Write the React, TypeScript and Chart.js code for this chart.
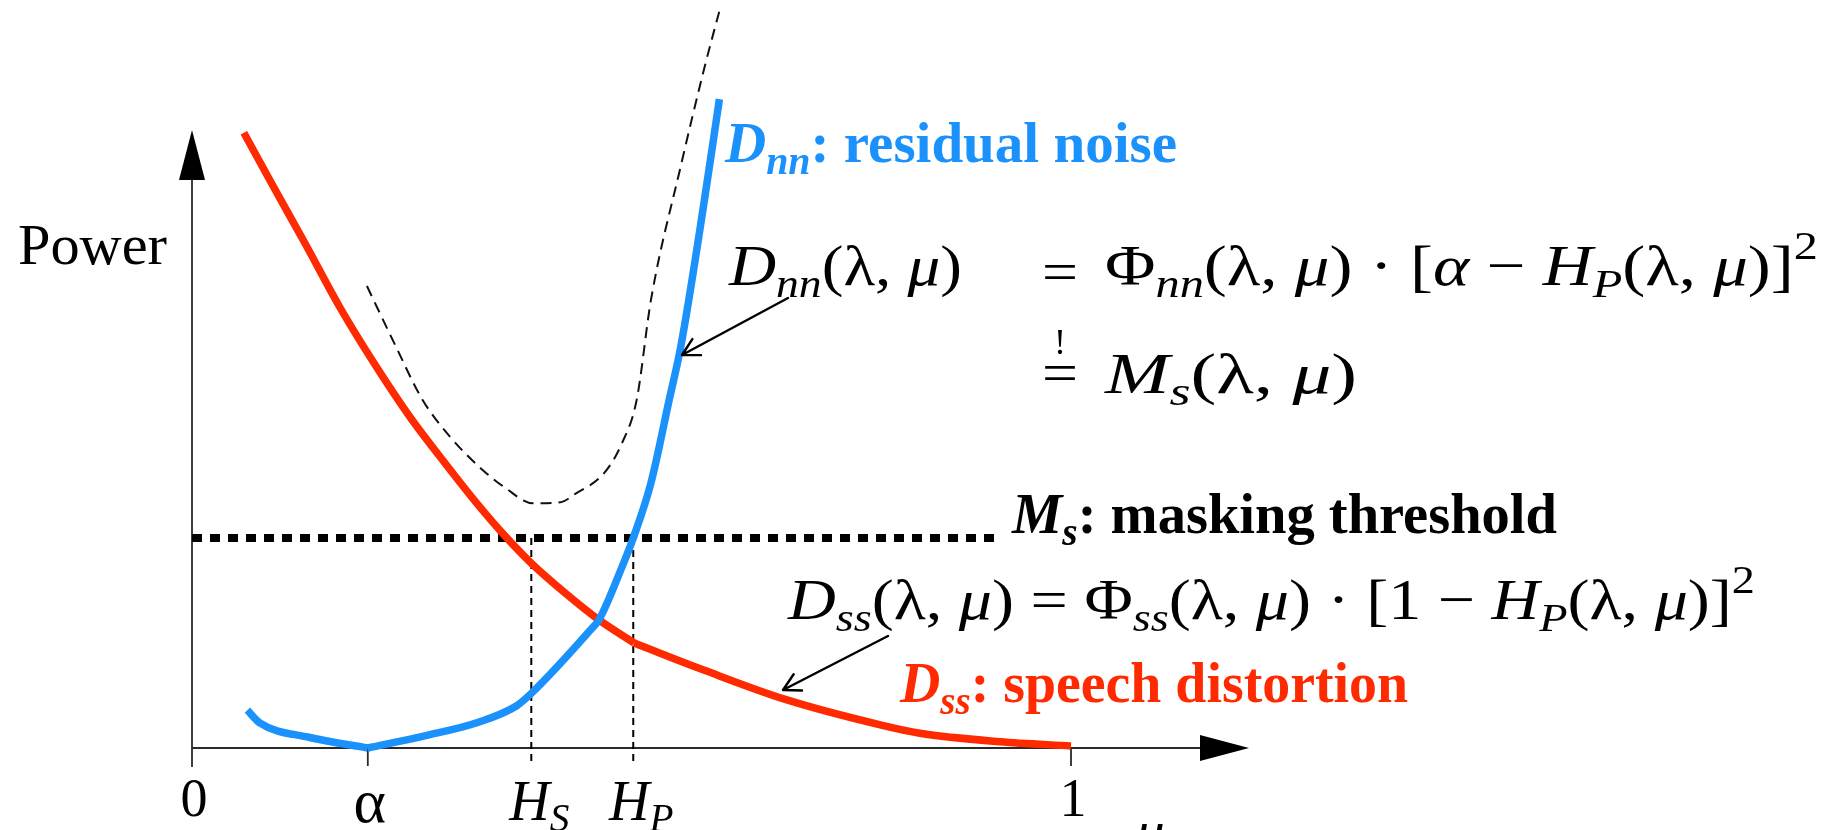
import React, { useEffect, useRef } from "react";
import { Chart, registerables } from "chart.js";

Chart.register(...registerables);

// Gain axis (H) and power axis; the masking threshold sits at power 1.
const gainTicks = [0, 0.2, 0.386, 0.502, 1];
const gainTickLabels = ["0", "α", "H_S", "H_P", "1"];
const gainTickMarks = [0, 0.2, 1];

// D_ss: speech distortion (bends at H_P)
const speechGain = [0.059, 0.093, 0.129, 0.168, 0.209, 0.249, 0.289, 0.325, 0.356, 0.386, 0.424, 0.463, 0.503, 0.583, 0.676, 0.783, 0.828, 0.919, 1.0];
const speechPower = [2.93, 2.67, 2.4, 2.1, 1.82, 1.57, 1.35, 1.16, 1.01, 0.88, 0.74, 0.61, 0.5, 0.37, 0.23, 0.11, 0.07, 0.03, 0.01];
const speechBendGain = 0.503;

// D_nn: residual noise (zero at α)
const noiseGain = [0.063, 0.077, 0.134, 0.2, 0.267, 0.324, 0.369, 0.386, 0.455, 0.463, 0.489, 0.502, 0.522, 0.543, 0.556, 0.583, 0.6];
const noisePower = [0.18, 0.12, 0.05, 0.0, 0.06, 0.12, 0.2, 0.26, 0.57, 0.61, 0.86, 1.0, 1.26, 1.66, 1.91, 2.61, 3.09];
const noiseZeroGain = 0.2;

// Sum of both distortions (dashed)
const totalGain = [0.199, 0.231, 0.262, 0.294, 0.329, 0.356, 0.388, 0.419, 0.436, 0.469, 0.489, 0.506, 0.522, 0.556, 0.583, 0.6];
const totalPower = [2.2, 1.92, 1.66, 1.48, 1.33, 1.24, 1.165, 1.17, 1.21, 1.31, 1.45, 1.66, 2.13, 2.77, 3.24, 3.51];

// M_s: masking threshold
const maskLevel = 1;
const maskGainEnd = 0.916;
const guideBottom = -0.068;

// axis arrow tips
const gainAxisEnd = 1.2025;
const powerAxisEnd = 2.943;

const BLUE = "#1b91fb";
const RED = "#ff2a00";
const SERIF = "'Liberation Serif', 'Times New Roman', serif";

type P = { x: number; y: number };
const pts = (xs: number[], ys: number[]): P[] => xs.map((x, i) => ({ x, y: ys[i] }));
const before = (p: P[], at: number) => p.filter((q) => q.x <= at);
const after = (p: P[], at: number) => p.filter((q) => q.x >= at);

type Run = { t: string; it?: boolean; b?: boolean; sub?: boolean; sup?: boolean };

function runFont(r: Run, size: number, family: string) {
  const s = r.sub || r.sup ? size * 0.7 : size;
  return `${r.it ? "italic " : ""}${r.b ? "bold " : ""}${s}px ${family}`;
}

function drawRuns(
  ctx: CanvasRenderingContext2D,
  runs: Run[],
  x: number,
  base: number,
  size: number,
  family: string,
  color: string,
  width?: number,
  align: "left" | "center" = "left"
) {
  ctx.save();
  let total = 0;
  const ws = runs.map((r) => {
    ctx.font = runFont(r, size, family);
    const w = ctx.measureText(r.t).width;
    total += w;
    return w;
  });
  const sx = width ? width / total : 1;
  const left = align === "center" ? x - (total * sx) / 2 : x;
  ctx.translate(left, base);
  ctx.scale(sx, 1);
  ctx.fillStyle = color;
  ctx.textBaseline = "alphabetic";
  ctx.textAlign = "left";
  let cx = 0;
  runs.forEach((r, i) => {
    ctx.font = runFont(r, size, family);
    const dy = r.sub ? size * 0.2 : r.sup ? -size * 0.45 : 0;
    ctx.fillText(r.t, cx, dy);
    cx += ws[i];
  });
  ctx.restore();
}

function labelRuns(label: string): Run[] {
  const [main, sub] = label.split("_");
  const italic = /[A-Z]/.test(main);
  const runs: Run[] = [{ t: main, it: italic }];
  if (sub) runs.push({ t: sub, it: true, sub: true });
  return runs;
}

function arrowLine(ctx: CanvasRenderingContext2D, x1: number, y1: number, x2: number, y2: number) {
  const a = Math.atan2(y2 - y1, x2 - x1);
  ctx.save();
  ctx.strokeStyle = "#000";
  ctx.lineWidth = 2.4;
  ctx.lineCap = "round";
  ctx.lineJoin = "round";
  ctx.beginPath();
  ctx.moveTo(x1, y1);
  ctx.lineTo(x2, y2);
  const h = 19;
  ctx.moveTo(x2 - h * Math.cos(a - 0.5), y2 - h * Math.sin(a - 0.5));
  ctx.lineTo(x2, y2);
  ctx.lineTo(x2 - h * Math.cos(a + 0.5), y2 - h * Math.sin(a + 0.5));
  ctx.stroke();
  ctx.restore();
}

const axesPlugin = {
  id: "axesPlugin",
  beforeDatasetsDraw(chart: any) {
    const { ctx } = chart;
    const xs = chart.scales.x;
    const ys = chart.scales.y;
    const x0 = xs.getPixelForValue(0);
    const y0 = ys.getPixelForValue(0);
    const yTip = ys.getPixelForValue(powerAxisEnd);
    const xTip = xs.getPixelForValue(gainAxisEnd);
    ctx.save();
    ctx.strokeStyle = "#2a2a2a";
    ctx.lineWidth = 1.8;
    ctx.beginPath();
    ctx.moveTo(x0, y0 + 19);
    ctx.lineTo(x0, yTip + 45);
    ctx.moveTo(x0, y0);
    ctx.lineTo(xTip - 45, y0);
    gainTickMarks.forEach((v) => {
      const px = xs.getPixelForValue(v);
      ctx.moveTo(px, y0);
      ctx.lineTo(px, y0 + 18);
    });
    ctx.stroke();
    ctx.fillStyle = "#000";
    ctx.beginPath();
    ctx.moveTo(x0, yTip);
    ctx.lineTo(x0 - 13, yTip + 50);
    ctx.lineTo(x0 + 13, yTip + 50);
    ctx.closePath();
    ctx.fill();
    ctx.beginPath();
    ctx.moveTo(xTip, y0);
    ctx.lineTo(xTip - 49, y0 - 13);
    ctx.lineTo(xTip - 49, y0 + 13);
    ctx.closePath();
    ctx.fill();
    ctx.restore();
  },
  afterDatasetsDraw(chart: any) {
    const { ctx } = chart;
    const xs = chart.scales.x;
    const ys = chart.scales.y;
    const y0 = ys.getPixelForValue(0);

    // tick labels under the gain axis
    gainTicks.forEach((v, i) => {
      const label = gainTickLabels[i];
      const runs = labelRuns(label);
      const hasSub = runs.length > 1;
      const px = xs.getPixelForValue(v) + (hasSub ? 8 : 2);
      const size = hasSub ? 56 : label === "α" ? 62 : 54;
      const base = y0 + (hasSub ? 72 : label === "α" ? 74 : 68);
      drawRuns(ctx, runs, px, base, size, SERIF, "#000", undefined, "center");
    });
    // axis names
    drawRuns(ctx, [{ t: "μ", it: true }], xs.getPixelForValue(1.09), y0 + 102, 58, SERIF, "#000", undefined, "center");
    drawRuns(ctx, [{ t: "Power" }], 18, 264, 58, SERIF, "#000", 149);

    // curve labels
    drawRuns(ctx, [{ t: "D", it: true, b: true }, { t: "nn", it: true, b: true, sub: true }, { t: ": residual noise", b: true }], 725, 162, 58, SERIF, BLUE, 452);
    drawRuns(ctx, [{ t: "M", it: true, b: true }, { t: "s", it: true, b: true, sub: true }, { t: ": masking threshold", b: true }], 1012, 533, 58, SERIF, "#000", 545);
    drawRuns(ctx, [{ t: "D", it: true, b: true }, { t: "ss", it: true, b: true, sub: true }, { t: ": speech distortion", b: true }], 900, 702, 58, SERIF, RED, 508);

    // equations
    const lam: Run[] = [{ t: "(λ, " }, { t: "μ", it: true }, { t: ")" }];
    drawRuns(ctx, [{ t: "D", it: true }, { t: "nn", it: true, sub: true }, ...lam], 729, 285, 58, SERIF, "#000", 233);
    drawRuns(ctx, [{ t: "=" }], 1042, 291, 58, SERIF, "#000", 36);
    drawRuns(ctx, [
      { t: "Φ" }, { t: "nn", it: true, sub: true }, ...lam, { t: " · [" }, { t: "α", it: true }, { t: " − " },
      { t: "H", it: true }, { t: "P", it: true, sub: true }, ...lam, { t: "]" }, { t: "2", sup: true },
    ], 1105, 285, 58, SERIF, "#000", 713);
    drawRuns(ctx, [{ t: "=" }], 1042, 392, 58, SERIF, "#000", 36);
    drawRuns(ctx, [{ t: "!" }], 1060, 354, 36, SERIF, "#000", undefined, "center");
    drawRuns(ctx, [{ t: "M", it: true }, { t: "s", it: true, sub: true }, ...lam], 1105, 393, 58, SERIF, "#000", 252);
    drawRuns(ctx, [
      { t: "D", it: true }, { t: "ss", it: true, sub: true }, ...lam, { t: " = Φ" }, { t: "ss", it: true, sub: true }, ...lam,
      { t: " · [1 − " }, { t: "H", it: true }, { t: "P", it: true, sub: true }, ...lam, { t: "]" }, { t: "2", sup: true },
    ], 788, 619, 58, SERIF, "#000", 967);

    // callouts from the equations to the curves
    arrowLine(ctx, 788, 298, 682, 355);
    arrowLine(ctx, 888, 636, 783, 690);
  },
};

const curve = (data: P[], color: string, order: number) => ({
  data,
  showLine: true,
  borderColor: color,
  borderWidth: 7.5,
  pointRadius: 0,
  cubicInterpolationMode: "monotone",
  clip: false,
  order,
});

const guide = (data: P[], order: number) => ({
  data,
  showLine: true,
  borderColor: "#000",
  borderWidth: 2,
  borderDash: [7, 5],
  pointRadius: 0,
  clip: false,
  order,
});

export default function App() {
  const ref = useRef<HTMLCanvasElement | null>(null);

  useEffect(() => {
    if (!ref.current) return;
    const noise = pts(noiseGain, noisePower);
    const speech = pts(speechGain, speechPower);
    const chart = new Chart(ref.current, {
      type: "scatter",
      data: {
        datasets: [
          curve(before(noise, noiseZeroGain), BLUE, 1),
          curve(after(noise, noiseZeroGain), BLUE, 1),
          curve(before(speech, speechBendGain), RED, 2),
          curve(after(speech, speechBendGain), RED, 2),
          {
            data: pts(totalGain, totalPower),
            showLine: true,
            borderColor: "#111",
            borderWidth: 2,
            borderDash: [11, 7],
            pointRadius: 0,
            cubicInterpolationMode: "monotone",
            clip: false,
            order: 3,
          },
          {
            data: [{ x: 0, y: maskLevel }, { x: maskGainEnd, y: maskLevel }],
            showLine: true,
            borderColor: "#000",
            borderWidth: 8,
            borderDash: [10, 8],
            borderCapStyle: "butt",
            pointRadius: 0,
            clip: false,
            order: 4,
          },
          guide([{ x: gainTicks[2], y: maskLevel }, { x: gainTicks[2], y: guideBottom }], 5),
          guide([{ x: gainTicks[3], y: maskLevel }, { x: gainTicks[3], y: guideBottom }], 5),
        ] as any,
      },
      options: {
        animation: false,
        responsive: false,
        maintainAspectRatio: false,
        layout: { padding: { left: 192, right: 767, top: 13, bottom: 82 } },
        scales: {
          x: { type: "linear", min: 0, max: 1, display: false },
          y: { type: "linear", min: 0, max: 3.5, display: false },
        },
        plugins: { legend: { display: false }, tooltip: { enabled: false } },
        events: [],
      },
      plugins: [axesPlugin],
    });
    return () => chart.destroy();
  }, []);

  return (
    <div style={{ position: "fixed", left: 0, top: 0, width: 1838, height: 830, background: "#fff" }}>
      <canvas ref={ref} width={1838} height={830} style={{ display: "block" }} />
    </div>
  );
}
